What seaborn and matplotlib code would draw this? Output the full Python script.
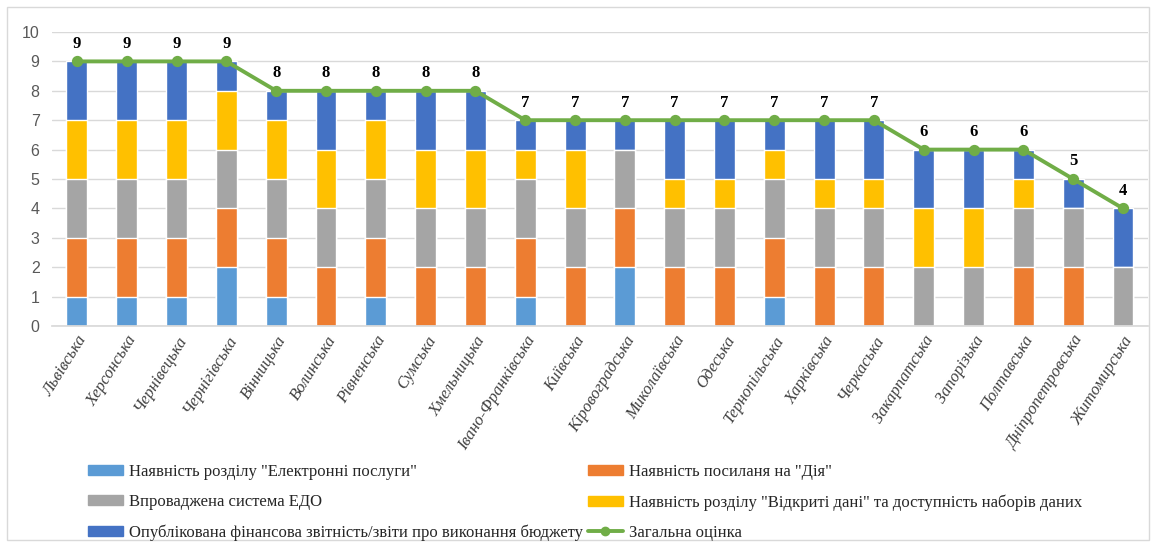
import numpy as np
import pandas as pd
import matplotlib.pyplot as plt
import seaborn as sns
from matplotlib.patches import Patch, Rectangle
from matplotlib.lines import Line2D

sns.set_theme(style="white")
plt.rcParams["font.family"] = ["Liberation Serif", "DejaVu Serif"]

regions = ["Львівська", "Херсонська", "Чернівецька", "Чернігівська", "Вінницька",
           "Волинська", "Рівненська", "Сумська", "Хмельницька", "Івано-Франківська",
           "Київська", "Кіровоградська", "Миколаївська", "Одеська", "Тернопільська",
           "Харківська", "Черкаська", "Закарпатська", "Запорізька", "Полтавська",
           "Дніпропетровська", "Житомирська"]

e_services = [1, 1, 1, 2, 1, 0, 1, 0, 0, 1, 0, 2, 0, 0, 1, 0, 0, 0, 0, 0, 0, 0]
diia_link = [2, 2, 2, 2, 2, 2, 2, 2, 2, 2, 2, 2, 2, 2, 2, 2, 2, 0, 0, 2, 2, 0]
edo_system = [2, 2, 2, 2, 2, 2, 2, 2, 2, 2, 2, 2, 2, 2, 2, 2, 2, 2, 2, 2, 2, 2]
open_data = [2, 2, 2, 2, 2, 2, 2, 2, 2, 1, 2, 0, 1, 1, 1, 1, 1, 2, 2, 1, 0, 0]
fin_reports = [2, 2, 2, 1, 1, 2, 1, 2, 2, 1, 1, 1, 2, 2, 1, 2, 2, 2, 2, 1, 1, 2]

series_names = ['Наявність розділу "Електронні послуги"',
                'Наявність посиланя на "Дія"',
                'Впроваджена система ЕДО',
                'Наявність розділу "Відкриті дані" та доступність наборів даних',
                'Опублікована фінансова звітність/звіти про виконання бюджету']
total_name = "Загальна оцінка"
colors = ["#5B9BD5", "#ED7D31", "#A5A5A5", "#FFC000", "#4472C4"]
green = "#70AD47"

parts = [e_services, diia_link, edo_system, open_data, fin_reports]
df = pd.DataFrame({"region": regions})
for i, p in enumerate(parts):
    df[f"c{i}"] = np.sum(parts[: i + 1], axis=0)
df["total"] = df["c4"]

fig = plt.figure(figsize=(11.56, 5.47), dpi=100)
ax = fig.add_axes([0.045, 0.404, 0.948, 0.5375])

# stacked bars: draw cumulative sums from the top down
for i in range(4, -1, -1):
    sns.barplot(data=df, x="region", y=f"c{i}", color=colors[i], width=0.42,
                saturation=1, ax=ax, zorder=2)

sns.pointplot(data=df, x="region", y="total", color=green, markers="o",
              markersize=6, linewidth=2.8, ax=ax, zorder=4)

for i, t in enumerate(df["total"]):
    ax.text(i, t + 0.6, str(t), ha="center", va="center", fontsize=12,
            fontweight="bold", color="black")

ax.set_ylim(0, 10)
ax.set_xlim(-0.5, len(regions) - 0.5)
ax.set_yticks(range(0, 11))
ax.yaxis.grid(True, color="#D9D9D9", linewidth=1)
ax.set_axisbelow(True)
for s in ["top", "right", "left"]:
    ax.spines[s].set_visible(False)
ax.spines["bottom"].set_color("#D9D9D9")
ax.set_xlabel("")
ax.set_ylabel("")
ax.tick_params(axis="y", length=0, labelsize=11.5, labelcolor="#595959", pad=9)
for lab in ax.get_yticklabels():
    lab.set_family(["Liberation Sans", "DejaVu Sans"])
ax.tick_params(axis="x", length=0, labelsize=12, labelcolor="#404040", pad=5)
ax.set_xticks(range(len(regions)))
ax.set_xticklabels(regions, rotation=58, ha="right", rotation_mode="anchor",
                   style="italic")

handles = [Patch(color=colors[0], label=series_names[0]),
           Patch(color=colors[2], label=series_names[2]),
           Patch(color=colors[4], label=series_names[4]),
           Patch(color=colors[1], label=series_names[1]),
           Patch(color=colors[3], label=series_names[3]),
           Line2D([0], [0], color=green, lw=2.8, marker="o", markersize=6,
                  label=total_name)]
fig.legend(handles=handles, ncol=2, loc="upper left",
           bbox_to_anchor=(0.069, 0.167), frameon=False, fontsize=12,
           handlelength=2.1, handleheight=0.55, columnspacing=0.3,
           labelspacing=0.85, handletextpad=0.35, borderpad=0)

fig.patches.append(Rectangle((0.006, 0.012), 0.988, 0.975, transform=fig.transFigure,
                             fill=False, edgecolor="#D9D9D9", linewidth=1))

fig.savefig("out.png", dpi=100)
